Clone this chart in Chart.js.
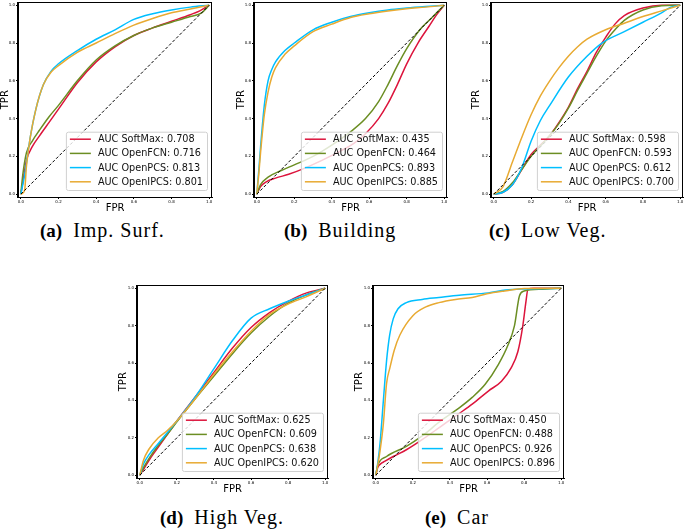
<!DOCTYPE html>
<html>
<head>
<meta charset="utf-8">
<script src="https://cdn.jsdelivr.net/npm/chart.js@4.4.1/dist/chart.umd.min.js"></script>
<style>
  body { margin: 0; background: #fff; width: 685px; height: 532px; position: relative; overflow: hidden; }
  canvas { position: absolute; }
  .cap { position: absolute; font-family: 'Liberation Serif', serif; font-size: 20px; line-height: 20px; white-space: nowrap; color: #000; letter-spacing: 1px; }
  .cap b { margin-right: 11px; letter-spacing: 0; font-size: 19px; }
</style>
</head>
<body>
<script>
const methods = [ 'SoftMax', 'OpenFCN', 'OpenPCS', 'OpenIPCS' ]
const colors = [ '#dc143c', '#6b8e23', '#00bfff', '#e8aa32' ]
const tickValues = [ 0, 0.2, 0.4, 0.6, 0.8, 1.0 ]

// (a) Imp. Surf.
const aSoftMax = [ [0,0],[0.01,0.06],[0.03,0.18],[0.06,0.25],[0.1,0.31],[0.15,0.38],[0.2,0.45],[0.3,0.59],[0.4,0.7],[0.5,0.78],[0.6,0.84],[0.7,0.88],[0.8,0.915],[0.9,0.95],[0.95,0.97],[1,1] ]
const aOpenFCN = [ [0,0],[0.01,0.1],[0.03,0.22],[0.06,0.28],[0.1,0.34],[0.15,0.41],[0.2,0.47],[0.3,0.6],[0.4,0.71],[0.5,0.785],[0.6,0.84],[0.7,0.88],[0.8,0.91],[0.9,0.94],[0.96,0.96],[1,1] ]
const aOpenPCS = [ [0,0],[0.02,0.1],[0.05,0.3],[0.08,0.45],[0.12,0.58],[0.16,0.65],[0.2,0.69],[0.3,0.76],[0.4,0.82],[0.5,0.87],[0.6,0.925],[0.7,0.955],[0.8,0.975],[0.9,0.99],[1,1] ]
const aOpenIPCS = [ [0,0],[0.02,0.02],[0.03,0.15],[0.05,0.3],[0.08,0.45],[0.12,0.58],[0.16,0.645],[0.2,0.68],[0.3,0.75],[0.4,0.8],[0.5,0.85],[0.6,0.895],[0.7,0.93],[0.8,0.96],[0.9,0.98],[1,1] ]
const aucA = [ 0.708, 0.716, 0.813, 0.801 ]

// (b) Building
const bSoftMax = [ [0,0],[0.02,0.04],[0.05,0.065],[0.1,0.085],[0.17,0.105],[0.25,0.135],[0.35,0.18],[0.45,0.23],[0.52,0.27],[0.58,0.32],[0.65,0.4],[0.7,0.48],[0.75,0.58],[0.8,0.69],[0.86,0.8],[0.92,0.89],[0.96,0.95],[1,1] ]
const bOpenFCN = [ [0,0],[0.02,0.05],[0.06,0.09],[0.13,0.125],[0.2,0.155],[0.3,0.2],[0.4,0.26],[0.5,0.33],[0.58,0.4],[0.65,0.49],[0.7,0.58],[0.75,0.68],[0.8,0.77],[0.87,0.87],[0.93,0.93],[0.97,0.97],[1,1] ]
const bOpenPCS = [ [0,0],[0.01,0.12],[0.02,0.25],[0.04,0.47],[0.06,0.6],[0.08,0.66],[0.1,0.7],[0.15,0.76],[0.2,0.8],[0.3,0.87],[0.4,0.91],[0.5,0.94],[0.6,0.96],[0.7,0.975],[0.8,0.985],[0.9,0.993],[1,1] ]
const bOpenIPCS = [ [0,0],[0.01,0.1],[0.02,0.22],[0.04,0.42],[0.06,0.54],[0.08,0.62],[0.1,0.67],[0.15,0.74],[0.2,0.785],[0.3,0.86],[0.4,0.9],[0.5,0.935],[0.6,0.955],[0.7,0.97],[0.8,0.982],[0.9,0.99],[1,1] ]
const aucB = [ 0.435, 0.464, 0.893, 0.885 ]

// (c) Low Veg.
const cSoftMax = [ [0,0],[0.05,0.01],[0.1,0.05],[0.15,0.13],[0.2,0.21],[0.25,0.26],[0.3,0.31],[0.35,0.38],[0.4,0.46],[0.45,0.56],[0.5,0.65],[0.55,0.75],[0.6,0.83],[0.65,0.9],[0.7,0.945],[0.8,0.985],[0.9,1],[1,1] ]
const cOpenFCN = [ [0,0],[0.05,0.015],[0.1,0.06],[0.15,0.13],[0.2,0.2],[0.25,0.255],[0.3,0.31],[0.35,0.375],[0.4,0.455],[0.45,0.55],[0.5,0.64],[0.55,0.73],[0.6,0.81],[0.65,0.87],[0.7,0.92],[0.8,0.975],[0.9,0.997],[1,1] ]
const cOpenPCS = [ [0,0],[0.05,0.01],[0.1,0.05],[0.15,0.14],[0.2,0.28],[0.25,0.39],[0.3,0.47],[0.4,0.62],[0.5,0.73],[0.58,0.8],[0.7,0.86],[0.8,0.91],[0.9,0.96],[0.95,0.99],[1,1] ]
const cOpenIPCS = [ [0,0],[0.05,0.04],[0.1,0.17],[0.15,0.3],[0.2,0.42],[0.25,0.52],[0.3,0.6],[0.35,0.67],[0.4,0.73],[0.45,0.78],[0.5,0.82],[0.6,0.87],[0.7,0.905],[0.8,0.94],[0.9,0.97],[1,1] ]
const aucC = [ 0.598, 0.593, 0.612, 0.700 ]

// (d) High Veg.
const dSoftMax = [ [0,0],[0.02,0.03],[0.05,0.08],[0.1,0.15],[0.15,0.22],[0.2,0.29],[0.3,0.42],[0.4,0.55],[0.5,0.68],[0.6,0.79],[0.7,0.87],[0.8,0.93],[0.9,0.975],[1,1] ]
const dOpenFCN = [ [0,0],[0.02,0.04],[0.05,0.09],[0.1,0.16],[0.15,0.22],[0.2,0.285],[0.3,0.41],[0.4,0.53],[0.5,0.65],[0.6,0.76],[0.7,0.85],[0.8,0.92],[0.9,0.965],[1,1] ]
const dOpenPCS = [ [0,0],[0.02,0.06],[0.05,0.11],[0.1,0.17],[0.15,0.23],[0.2,0.29],[0.3,0.42],[0.4,0.57],[0.5,0.72],[0.6,0.84],[0.7,0.89],[0.8,0.93],[0.9,0.965],[1,1] ]
const dOpenIPCS = [ [0,0],[0.02,0.08],[0.05,0.14],[0.1,0.2],[0.15,0.24],[0.2,0.29],[0.3,0.41],[0.4,0.54],[0.5,0.66],[0.6,0.77],[0.7,0.86],[0.8,0.915],[0.9,0.955],[1,1] ]
const aucD = [ 0.625, 0.609, 0.638, 0.620 ]

// (e) Car
const eSoftMax = [ [0,0],[0.01,0.04],[0.023,0.058],[0.05,0.075],[0.094,0.1],[0.165,0.136],[0.25,0.19],[0.35,0.26],[0.45,0.33],[0.52,0.38],[0.607,0.45],[0.678,0.503],[0.73,0.574],[0.766,0.66],[0.793,0.8],[0.81,0.93],[0.82,0.993],[0.85,1],[1,1] ]
const eOpenFCN = [ [0,0],[0.01,0.05],[0.058,0.1],[0.165,0.154],[0.25,0.21],[0.35,0.29],[0.45,0.36],[0.52,0.416],[0.59,0.486],[0.66,0.59],[0.713,0.696],[0.748,0.8],[0.775,0.96],[0.8,0.985],[0.9,0.995],[1,1] ]
const eOpenPCS = [ [0,0],[0.01,0.06],[0.023,0.17],[0.041,0.4],[0.058,0.61],[0.075,0.75],[0.094,0.836],[0.12,0.89],[0.165,0.923],[0.25,0.94],[0.34,0.95],[0.45,0.962],[0.607,0.975],[0.7,0.99],[0.8,0.996],[1,1] ]
const eOpenIPCS = [ [0,0],[0.01,0.05],[0.023,0.13],[0.041,0.276],[0.058,0.49],[0.076,0.574],[0.1,0.67],[0.13,0.75],[0.2,0.853],[0.27,0.9],[0.34,0.923],[0.43,0.94],[0.52,0.95],[0.6,0.97],[0.695,0.985],[0.8,0.998],[1,1] ]
const aucE = [ 0.450, 0.488, 0.926, 0.896 ]

const captionTags = [ '(a)', '(b)', '(c)', '(d)', '(e)' ]
const captionNames = [ 'Imp. Surf.', 'Building', 'Low Veg.', 'High Veg.', 'Car' ]

// frame box of each axes and where its caption sits
const panels = [
  { curves: [ aSoftMax, aOpenFCN, aOpenPCS, aOpenIPCS ], auc: aucA, box: [ 18, 2, 212, 197 ], L: 19, cap: [ 40, 220 ] },
  { curves: [ bSoftMax, bOpenFCN, bOpenPCS, bOpenIPCS ], auc: aucB, box: [ 254, 2, 447, 197 ], L: 19, cap: [ 284, 220 ] },
  { curves: [ cSoftMax, cOpenFCN, cOpenPCS, cOpenIPCS ], auc: aucC, box: [ 491, 2, 683, 197 ], L: 21, cap: [ 489, 220 ] },
  { curves: [ dSoftMax, dOpenFCN, dOpenPCS, dOpenIPCS ], auc: aucD, box: [ 137, 285, 328, 478 ], L: 20, cap: [ 160, 507 ] },
  { curves: [ eSoftMax, eOpenFCN, eOpenPCS, eOpenIPCS ], auc: aucE, box: [ 373, 285, 564, 478 ], L: 20, cap: [ 425, 507 ] },
]

const B = 17
const PAD_T = 3
const PAD_R = 4

const frame = {
  id: 'frame',
  afterDraw( chart ) {
    const { ctx, chartArea: a } = chart
    ctx.save()
    ctx.strokeStyle = '#000'
    ctx.lineWidth = 1
    ctx.strokeRect( Math.round( a.left ) - 0.5, Math.round( a.top ) + 0.5, Math.round( a.right - a.left ), Math.round( a.bottom - a.top ) )
    ctx.restore()
  }
}

const rocLegend = {
  id: 'rocLegend',
  afterDatasetsDraw( chart ) {
    const { ctx, chartArea: a } = chart
    const items = chart.data.datasets.filter( ( d ) => d.inLegend )
    ctx.save()
    ctx.font = '9.7px "DejaVu Sans"'
    const textW = Math.max( ...items.map( ( d ) => ctx.measureText( d.label ).width ) )
    const rowH = 14.2
    const w = 32 + textW + 4
    const h = items.length * rowH + 1.5
    const x = a.right - 5 - w
    const y = a.bottom - 7 - h
    ctx.beginPath()
    ctx.roundRect( x + 0.5, y + 0.5, w, h, 2 )
    ctx.fillStyle = 'rgba(255,255,255,0.8)'
    ctx.fill()
    ctx.strokeStyle = '#d0d0d0'
    ctx.lineWidth = 1
    ctx.stroke()
    items.forEach( ( d, i ) => {
      const cy = y + 7.5 + i * rowH
      ctx.beginPath()
      ctx.moveTo( x + 4, cy )
      ctx.lineTo( x + 25, cy )
      ctx.strokeStyle = d.borderColor
      ctx.lineWidth = 1.5
      ctx.stroke()
      ctx.fillStyle = '#111'
      ctx.textBaseline = 'middle'
      ctx.fillText( d.label, x + 32, cy + 0.5 )
    } )
    ctx.restore()
  }
}

function toPoints( arr ) {
  return arr.map( ( p ) => ( { x: p[0], y: p[1] } ) )
}

function axis( title, fit ) {
  return {
    type: 'linear',
    min: -0.015,
    max: 1.015,
    afterBuildTicks: ( s ) => { s.ticks = tickValues.map( ( v ) => ( { value: v } ) ) },
    afterFit: fit,
    grid: { drawOnChartArea: false, drawTicks: true, tickLength: 2, color: '#000' },
    border: { display: true, color: '#000' },
    ticks: {
      font: { family: 'DejaVu Sans', size: 4 },
      color: '#000',
      padding: 1,
      maxRotation: 0,
      callback: ( v ) => Number( v ).toFixed( 1 ),
    },
    title: { display: true, text: title, color: '#000', font: { family: 'DejaVu Sans', size: 10 }, padding: 0 },
  }
}

panels.forEach( ( p, idx ) => {
  const [ x0, y0, x1, y1 ] = p.box
  const canvas = document.createElement( 'canvas' )
  canvas.width = p.L + ( x1 - x0 ) + PAD_R
  canvas.height = PAD_T + ( y1 - y0 ) + B
  canvas.style.left = ( x0 - p.L ) + 'px'
  canvas.style.top = ( y0 - PAD_T ) + 'px'
  document.body.appendChild( canvas )

  const datasets = p.curves.map( ( c, i ) => ( {
    label: `AUC ${methods[i]}: ${p.auc[i].toFixed( 3 )}`,
    data: toPoints( c ),
    borderColor: colors[i],
    borderWidth: 1.5,
    showLine: true,
    pointRadius: 0,
    cubicInterpolationMode: 'monotone',
    order: 4 - i,
    inLegend: true,
  } ) )
  datasets.push( {
    label: 'chance',
    data: [ { x: 0, y: 0 }, { x: 1, y: 1 } ],
    borderColor: '#000',
    borderWidth: 1,
    borderDash: [ 3, 2 ],
    showLine: true,
    pointRadius: 0,
    order: 0,
  } )

  new Chart( canvas.getContext( '2d' ), {
    type: 'scatter',
    data: { datasets },
    options: {
      responsive: false,
      animation: false,
      layout: { padding: { top: PAD_T, right: PAD_R, left: 0, bottom: 0 } },
      plugins: { legend: { display: false }, tooltip: { enabled: false } },
      scales: {
        x: axis( 'FPR', ( s ) => { s.height = B } ),
        y: axis( 'TPR', ( s ) => { s.width = p.L } ),
      },
    },
    plugins: [ frame, rocLegend ],
  } )

  const cap = document.createElement( 'div' )
  cap.className = 'cap'
  cap.style.left = p.cap[0] + 'px'
  cap.style.top = p.cap[1] + 'px'
  cap.innerHTML = `<b>${captionTags[idx]}</b>${captionNames[idx]}`
  document.body.appendChild( cap )
} )
</script>
</body>
</html>
